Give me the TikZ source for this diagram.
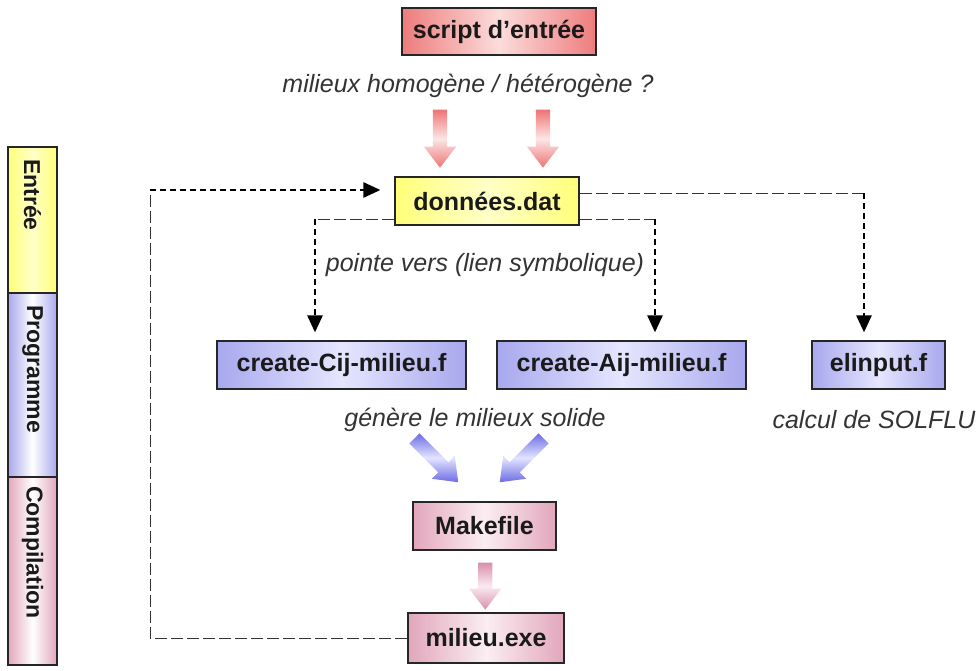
\documentclass[tikz,border=0pt]{standalone}
\usepackage{fontspec}
\setmainfont{Liberation Sans}
\usetikzlibrary{arrows.meta,shapes.arrows,calc}
\definecolor{redE}{HTML}{EE7C7C}
\definecolor{redM}{HTML}{FCDCDC}
\definecolor{yelE}{HTML}{FFFF7A}
\definecolor{yelM}{HTML}{FFFFC8}
\definecolor{bluE}{HTML}{A8A8EE}
\definecolor{bluM}{HTML}{E6E6FF}
\definecolor{pnkE}{HTML}{E2A6BC}
\definecolor{pnkM}{HTML}{FBEEF2}
\definecolor{arrR}{HTML}{EE7474}
\definecolor{arrRL}{HTML}{FCE6E6}
\definecolor{arrB}{HTML}{6C6CE6}
\definecolor{arrBL}{HTML}{E4E4FF}
\definecolor{arrP}{HTML}{D890AA}
\definecolor{arrPL}{HTML}{FAEAF0}
\definecolor{txt}{HTML}{1A1A1A}
\definecolor{ltxt}{HTML}{333333}
\tikzset{
  box/.style={draw=black!85, line width=1.2pt, minimum height=48pt, inner sep=0pt,
    font=\bfseries\fontsize{25}{29}\selectfont, text=txt},
  redbox/.style={box, left color=redE, right color=redE, middle color=redM},
  yelbox/.style={box, left color=yelE, right color=yelE, middle color=yelM},
  blubox/.style={box, left color=bluE, right color=bluE, middle color=bluM},
  pnkbox/.style={box, left color=pnkE, right color=pnkE, middle color=pnkM},
  lbl/.style={font=\itshape\fontsize{25}{29}\selectfont, text=ltxt, inner sep=0pt},
  colbox/.style={draw=black!85, line width=1.2pt, rotate=-90, minimum height=49pt,
    inner xsep=12pt, inner ysep=0pt, align=left,
    font=\bfseries\fontsize{23}{27}\selectfont, text=txt},
  loopline/.style={draw=black!80, line width=1pt, dash pattern=on 12pt off 4pt},
  arrline/.style={draw=black, line width=2.6pt, dash pattern=on 6pt off 4pt,
    -{Triangle[length=17pt,width=15pt]}, shorten >=8pt},
  fatarrow/.style={single arrow, draw=none, inner xsep=0pt, inner ysep=7pt,
    single arrow head extend=9pt, single arrow tip angle=75},
  pinkarrow/.style={fatarrow, top color=arrR, bottom color=arrR, middle color=arrRL},
  bluearrow/.style={fatarrow, top color=arrB, bottom color=arrB, middle color=arrBL},
  mauvearrow/.style={fatarrow, top color=arrP, bottom color=arrP, middle color=arrPL},
}
\begin{document}
\begin{tikzpicture}[x=1pt,y=-1pt]
\useasboundingbox (0,0) rectangle (978,670);
% left column
\node[colbox, text width=122pt, left color=yelE, right color=yelE, middle color=yelM] (colE) at (32.5,220) {Entrée};
\node[colbox, text width=160pt, left color=bluE, right color=bluE, middle color=white] (colP) at (32.5,385) {Programme};
\node[colbox, text width=170pt, inner xsep=9pt, left color=pnkE, right color=pnkE, middle color=white] (colC) at (32.5,571) {Compilation};
% main nodes
\node[redbox, minimum width=194pt, minimum height=47pt] (script) at (499,31.5) {script d'entrée};
\node[lbl] (hom) at (468,86) {milieux homogène / hétérogène ?};
\node[yelbox, minimum width=184pt] (don) at (487,201) {données.dat};
\node[lbl] (pointe) at (485,265) {pointe vers (lien symbolique)};
\node[blubox, minimum width=249pt] (cij) at (341.5,365) {create-Cij-milieu.f};
\node[blubox, minimum width=249pt] (aij) at (621.5,365) {create-Aij-milieu.f};
\node[blubox, minimum width=133pt] (elin) at (878.5,365) {elinput.f};
\node[lbl] (gen) at (475,420) {génère le milieux solide};
\node[lbl] (calc) at (874,420) {calcul de SOLFLU};
\node[pnkbox, minimum width=143pt] (make) at (484.5,526) {Makefile};
\node[pnkbox, minimum width=156pt, minimum height=50pt] (exe) at (486,638) {milieu.exe};
% fat arrows
\node[pinkarrow, rotate=-90, minimum height=58pt] (fa1) at (440,134) {};
\node[pinkarrow, rotate=-90, minimum height=58pt] (fa2) at (543,134) {};
\node[bluearrow, rotate=-45, minimum height=62pt] (ba1) at (433,457) {};
\node[bluearrow, rotate=-135, minimum height=62pt] (ba2) at (525,457) {};
\node[mauvearrow, rotate=-90, minimum height=47pt] (ma) at ($(make.south)!0.5!(exe.north)$) {};
% dashed connectors
\coordinate (lpB) at (150,190);
\coordinate (dL) at ($(don.west)+(0,18)$);
\coordinate (dR) at ($(don.east)+(0,18)$);
\coordinate (dR2) at ($(don.east)+(0,-8)$);
\coordinate (k1) at (315,219);
\coordinate (k2) at (655,219);
\coordinate (k3) at (864,193);
\draw[loopline] (exe.west) -| (lpB);
\draw[arrline, shorten >=14pt] (lpB) -- (lpB -| don.west);
\draw[loopline] (dL) -- (k1);
\draw[arrline] (k1) -- (k1 |- cij.north);
\draw[loopline] (dR) -- (k2);
\draw[arrline] (k2) -- (k2 |- aij.north);
\draw[loopline] (dR2) -- (k3);
\draw[arrline] (k3) -- (k3 |- elin.north);
\end{tikzpicture}
\end{document}
